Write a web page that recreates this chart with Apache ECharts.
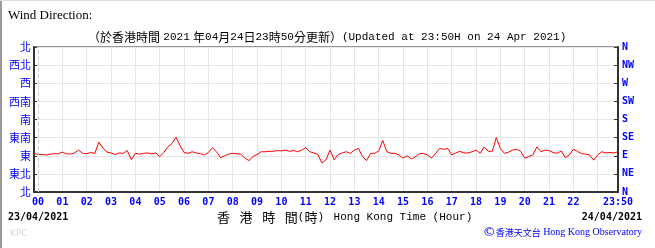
<!DOCTYPE html>
<html>
<head>
<meta charset="utf-8">
<script src="https://cdn.jsdelivr.net/npm/echarts@6/dist/echarts.min.js"></script>
<style>
  html, body { margin: 0; padding: 0; background: #fff; }
  #chart { width: 655px; height: 248px; }
</style>
</head>
<body>
<div id="chart"></div>
<script>
// y axis names, bottom (0°) to top (360°)
const dirZh = ['北', '東北', '東', '東南', '南', '西南', '西', '西北', '北'];
const dirEn = ['N', 'NE', 'E', 'SE', 'S', 'SW', 'W', 'NW', 'N'];

// 10-minute readings, 23:50 (23/04) .. 23:50 (24/04), degrees
const windDir = [
  96, 93, 93, 92, 94, 95, 95, 99, 95, 94, 97, 104, 96, 95, 98, 96, 124,
  109, 99, 97, 93, 97, 96, 103, 80, 96, 94,
  96, 97, 95, 97, 88, 98, 112, 120, 136, 115, 98, 96, 100, 97, 95, 92, 98, 110, 100, 85, 90, 94,
  96, 95, 94, 84, 78, 88, 93, 100, 100, 101,
  101, 103, 102, 104, 101, 103, 100, 104, 110, 100,
  97, 93, 72, 80, 104, 80, 93, 97, 100, 96,
  104, 108, 88, 78, 96, 96, 102, 128, 100, 96,
  96, 92, 84, 90, 82, 87,
  95, 96, 92, 84, 95, 108, 106, 108, 92, 97,
  101, 97, 97, 100, 104, 96, 112, 101, 101, 135,
  108, 96, 99, 104, 106, 101, 84, 88, 92, 112,
  100, 104, 103, 98, 96, 102, 85, 92, 106, 101,
  95, 94, 92, 79, 92, 100, 97, 98, 97, 100
];

// time categories every 10 min, starting 23:50
const times = [];
for (let i = 0; i < windDir.length; i++) {
  const m = (23 * 60 + 50 + i * 10) % (24 * 60);
  times.push(String(Math.floor(m / 60)).padStart(2, '0') + ':' + String(m % 60).padStart(2, '0'));
}

const blue = '#0000ff';
const monoFont = '"DejaVu Sans Mono", "Liberation Mono", monospace';
const cjkFont = '"Noto Sans CJK TC", "Noto Sans CJK SC", sans-serif';

const chartInstance = echarts.init(document.getElementById('chart'));
const isHour = (v) => v.endsWith(':00');

const option = {
  animation: false,
  backgroundColor: '#fff',
  grid: {
    left: 34, right: 37, top: 47, bottom: 56,
    show: true, borderColor: '#333', borderWidth: 1
  },
  xAxis: {
    type: 'category',
    data: times,
    boundaryGap: false,
    axisLine: { lineStyle: { color: '#333', width: 2 } },
    axisTick: { show: false },
    axisLabel: {
      interval: (i, v) => isHour(v) || i === times.length - 1,
      formatter: (v, i) => (i === times.length - 1 ? v : v.slice(0, 2)),
      color: blue, fontSize: 10, fontWeight: 'bold', fontFamily: monoFont,
      margin: 5, showMaxLabel: true
    },
    splitLine: {
      show: true,
      interval: (i, v) => isHour(v) && v !== '00:00',
      lineStyle: { color: '#e6e6e6', width: 1 }
    }
  },
  yAxis: [
    {
      type: 'value', min: 0, max: 360, interval: 45, position: 'left',
      axisLine: { show: true, lineStyle: { color: '#333', width: 2 } },
      axisTick: { show: true, inside: true, length: 3, lineStyle: { color: '#333' } },
      axisLabel: {
        formatter: (v) => dirZh[v / 45],
        color: blue, fontSize: 11, fontFamily: cjkFont, margin: 3
      },
      splitLine: { lineStyle: { color: '#e6e6e6', width: 1 } }
    },
    {
      type: 'value', min: 0, max: 360, interval: 45, position: 'right',
      axisLine: { show: true, lineStyle: { color: '#333', width: 2 } },
      axisTick: { show: true, inside: true, length: 4, lineStyle: { color: '#333' } },
      axisLabel: {
        formatter: (v) => dirEn[v / 45],
        color: blue, fontSize: 10, fontWeight: 'bold', fontFamily: monoFont, margin: 4
      },
      splitLine: { show: false }
    }
  ],
  series: [
    {
      type: 'line',
      data: windDir,
      symbol: 'none',
      lineStyle: { color: '#ff0000', width: 1 },
      markLine: {
        silent: true,
        symbol: 'none',
        label: { show: false },
        lineStyle: { color: '#d0d0d0', type: 'dashed', width: 1 },
        data: [{ xAxis: '00:00' }]
      }
    }
  ],
  graphic: [
    { type: 'rect', left: 0, top: 0, shape: { width: 2, height: 248 }, style: { fill: '#9a9a9a' } },
    { type: 'rect', left: 0, top: 0, shape: { width: 655, height: 1 }, style: { fill: '#dcdcdc' } },
    {
      type: 'text', left: 8, top: 9,
      style: { text: 'Wind Direction:', fill: '#000', font: '13px "Liberation Serif", serif' }
    },
    {
      type: 'text', left: 88, top: 31,
      style: {
        text: '{zh|（於香港時間} {en|2021} {zh|年}{en|04}{zh|月}{en|24}{zh|日}{en|23}{zh|時}{en|50}{zh|分更新）}{en|(Updated at 23:50H on 24 Apr 2021)}',
        rich: {
          zh: { font: '12px "Noto Sans CJK TC", sans-serif', fill: '#000' },
          en: { font: '11px "Liberation Mono", monospace', fill: '#000' }
        }
      }
    },
    {
      type: 'text', left: 8, top: 212,
      style: { text: '23/04/2021', fill: '#000', font: 'bold 10px ' + monoFont }
    },
    {
      type: 'text', right: 13, top: 212,
      style: { text: '24/04/2021', fill: '#000', font: 'bold 10px ' + monoFont }
    },
    {
      type: 'text', left: 217, top: 209,
      style: {
        text: '{zh|香}{sp| }{zh|港}{sp| }{zh|時}{sp| }{zh|間}{en|(}{zh|時}{en|)}{sp| }{en|Hong Kong Time (Hour)}',
        rich: {
          zh: { font: '13px "Noto Sans CJK TC", serif', fill: '#000' },
          sp: { font: '16px "Liberation Mono", monospace', fill: '#000' },
          en: { font: '11px "Liberation Mono", monospace', fill: '#000' }
        }
      }
    },
    {
      type: 'text', left: 10, top: 229,
      style: { text: 'KPC', fill: '#d8d8d8', font: '9px "DejaVu Sans", sans-serif' }
    },
    {
      type: 'text', right: 13, top: 226,
      style: {
        text: '{c|©}{zh|香港天文台}{en| Hong Kong Observatory}',
        rich: {
          c: { font: '13px "DejaVu Sans", sans-serif', fill: blue },
          zh: { font: '9px "Noto Sans CJK TC", serif', fill: blue },
          en: { font: '10px "Liberation Serif", serif', fill: blue }
        }
      }
    }
  ]
};
chartInstance.setOption(option);
window.addEventListener('resize', () => chartInstance.resize());
</script>
</body>
</html>
